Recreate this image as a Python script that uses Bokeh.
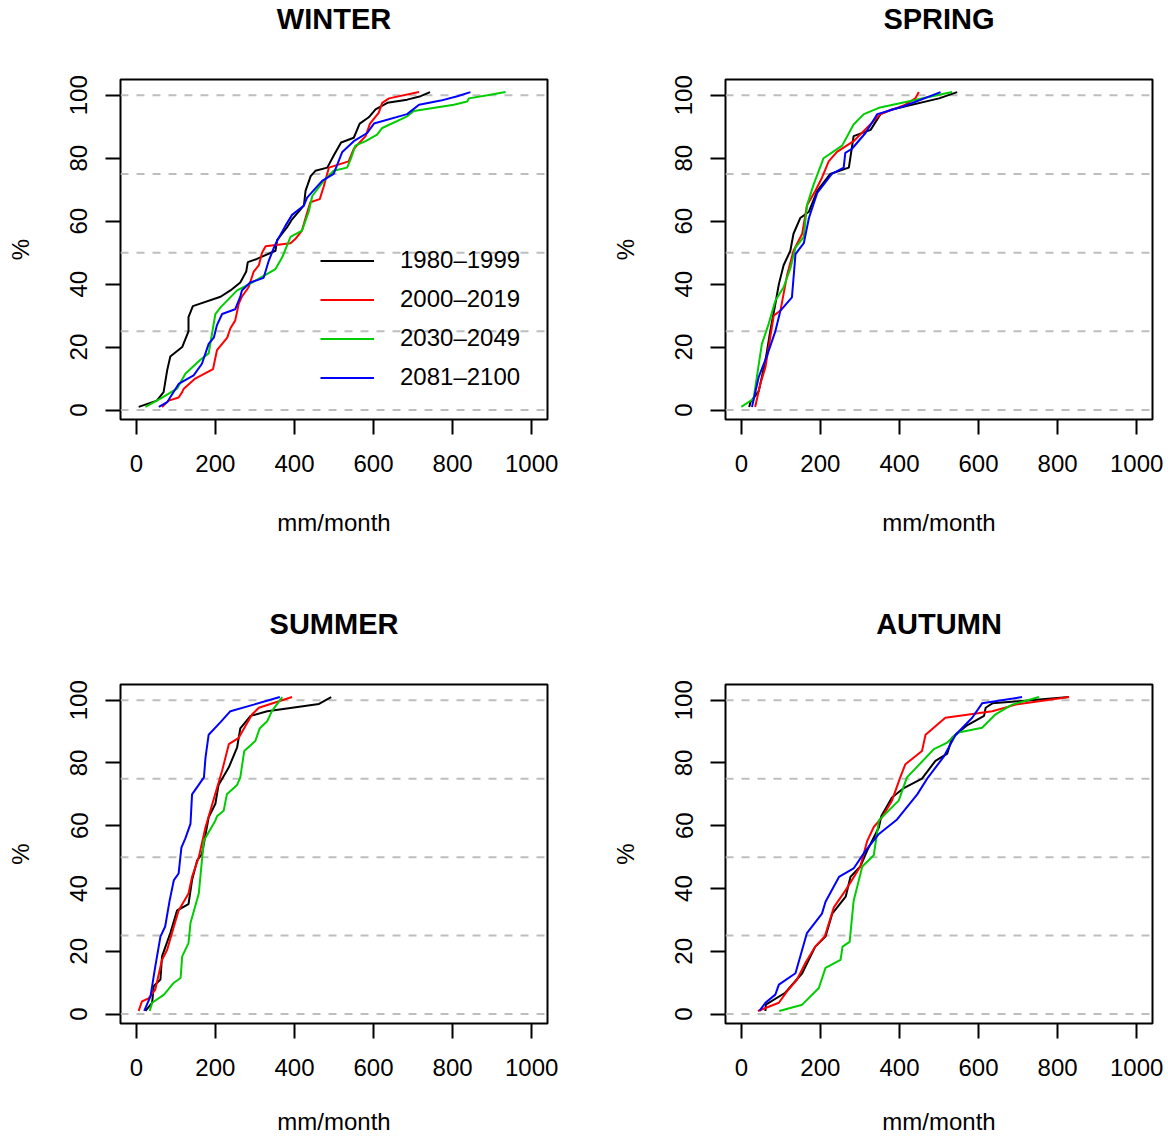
import math
from bokeh.plotting import figure
from bokeh.models import Range1d, Span, Legend, LegendItem, FixedTicker, Title
from bokeh.layouts import column, row
from bokeh.embed import file_html
from bokeh.resources import INLINE

# ---------------- data ----------------
periods = ["1980\u20131999", "2000\u20132019", "2030\u20132049", "2081\u20132100"]
period_colors = ["#000000", "#FF0000", "#00CD00", "#0000FF"]
x_ticks = [0, 200, 400, 600, 800, 1000]
y_ticks = [0, 20, 40, 60, 80, 100]
ref_levels = [0, 25, 50, 75, 100]

# WINTER
winter_1980_x = [6, 52, 69, 78, 86, 116, 132, 132, 143, 213, 238, 263, 278, 282, 305, 352, 356, 381, 394, 424, 428, 441, 453, 483, 500, 518, 550, 565, 588, 605, 635, 685, 719, 743]
winter_1980_y = [1, 3, 5.7, 12.6, 17, 20, 25, 29.5, 33, 36, 38, 40.5, 44, 47, 48, 50.6, 54, 58, 60.6, 65, 69.6, 74.3, 76, 77, 81, 85, 86.5, 91, 93, 95.5, 97.6, 98.6, 99.7, 101]
winter_2000_x = [65, 82, 107, 116, 120, 149, 194, 204, 230, 238, 250, 259, 267, 284, 297, 310, 318, 327, 390, 402, 419, 428, 440, 464, 474, 487, 537, 550, 580, 591, 613, 622, 639, 715]
winter_2000_y = [1, 3, 4, 5.7, 6.8, 10, 13, 19, 23, 26, 28.4, 33.7, 36, 39, 44, 46, 50, 52, 53, 54.3, 57, 61, 66, 67, 71, 77, 79, 83, 87, 91, 94.4, 97.6, 99, 101]
winter_2030_x = [23, 61, 103, 124, 162, 183, 200, 213, 255, 293, 352, 369, 390, 419, 436, 445, 474, 499, 533, 542, 554, 580, 609, 622, 685, 702, 803, 837, 841, 888, 934]
winter_2030_y = [1, 3.6, 6.8, 11.5, 16, 18, 30.5, 32.6, 38, 40.5, 44.8, 48.5, 55, 57, 63, 68, 72.8, 76, 77, 79.6, 84, 85.4, 87.5, 89.6, 93.3, 95, 97, 98, 99, 100, 101]
winter_2081_x = [57, 78, 107, 145, 166, 183, 196, 204, 217, 250, 263, 267, 288, 322, 335, 348, 356, 377, 394, 424, 432, 470, 499, 521, 550, 584, 601, 685, 715, 770, 812, 845]
winter_2081_y = [1, 2.5, 8.3, 11, 14.7, 21, 23, 27, 30.5, 32, 36, 38, 40.5, 42, 47.4, 51.6, 53.7, 58.5, 62, 65, 67.5, 72.8, 75, 82, 85.4, 88, 91, 94, 97, 98.3, 99.7, 101]

# SPRING
spring_1980_x = [20, 23, 44, 61, 73, 86, 95, 107, 124, 132, 149, 171, 192, 225, 259, 272, 284, 327, 352, 381, 500, 546]
spring_1980_y = [1, 2.5, 6, 15.7, 25, 33.7, 40, 46, 50.6, 56, 61, 63, 69.6, 75, 76.5, 77, 87, 89, 94, 95.5, 99, 101]
spring_2000_x = [35, 48, 61, 82, 99, 116, 132, 154, 166, 187, 204, 221, 242, 284, 352, 415, 440, 449]
spring_2000_y = [1, 8.3, 13.6, 30, 31.6, 43, 50.6, 56, 65, 69.6, 73.8, 79, 82, 85.4, 94, 97, 99, 101]
spring_2030_x = [0, 31, 52, 69, 86, 107, 124, 137, 158, 166, 183, 208, 255, 284, 310, 348, 407, 533]
spring_2030_y = [1, 3.6, 21, 27.3, 34.7, 39, 45, 51.6, 55, 65, 71.7, 80, 84, 90.7, 94, 96, 97.6, 101]
spring_2081_x = [27, 44, 65, 86, 99, 128, 137, 158, 171, 192, 229, 259, 263, 280, 314, 344, 411, 504]
spring_2081_y = [1, 10.5, 17.3, 25, 31.6, 35.8, 49.5, 53, 61, 69, 75, 77, 81.7, 83, 88, 94, 96.5, 101]

# SUMMER
summer_1980_x = [23, 40, 44, 61, 65, 86, 103, 132, 141, 154, 166, 183, 200, 208, 234, 255, 263, 289, 331, 462, 493]
summer_1980_y = [1, 3.6, 8.9, 11, 18.4, 25.8, 33, 35, 42.7, 49, 51, 62.7, 67, 73, 78.6, 85, 91, 95, 96.5, 98.8, 101]
summer_2000_x = [6, 14, 31, 48, 65, 78, 95, 107, 132, 141, 158, 175, 204, 217, 234, 259, 293, 310, 394]
summer_2000_y = [1, 4, 5, 7.8, 17.3, 20.5, 27.9, 33, 38.4, 43.7, 50, 59.5, 72, 77.5, 86, 88, 95.5, 97.6, 101]
summer_2030_x = [34, 40, 70, 95, 112, 116, 132, 137, 158, 166, 171, 200, 204, 221, 229, 255, 263, 273, 301, 312, 331, 343, 369]
summer_2030_y = [1, 3.6, 6.2, 10, 11.5, 18.4, 22.6, 29, 38.4, 49, 55.3, 61.7, 63, 64.8, 70, 73, 75.4, 83.8, 87, 91, 93.3, 96.5, 101]
summer_2081_x = [20, 36, 48, 61, 73, 84, 95, 107, 114, 124, 137, 141, 171, 175, 183, 213, 238, 297, 363]
summer_2081_y = [1, 5.7, 15.2, 24.7, 27.9, 36, 42.7, 44.8, 53, 56, 60.6, 70, 75.4, 81.7, 89, 93, 96.5, 98.6, 101]

# AUTUMN
autumn_1980_x = [61, 62, 111, 154, 187, 213, 230, 264, 276, 301, 318, 348, 354, 381, 411, 457, 491, 521, 533, 571, 614, 618, 635, 829]
autumn_1980_y = [1, 3, 6.8, 13, 21.5, 24.7, 32, 37.4, 43.7, 47, 52, 59.5, 63, 69, 72, 75, 80.7, 83, 88, 92, 95, 97.6, 99, 101]
autumn_2000_x = [42, 95, 116, 141, 162, 187, 211, 234, 264, 301, 318, 335, 356, 381, 402, 415, 457, 466, 516, 635, 694, 829]
autumn_2000_y = [1, 3.6, 7.3, 11, 16.3, 21.5, 24.7, 34, 39.5, 47, 55, 59.6, 62.7, 68, 75.4, 79.6, 83.8, 89, 94.4, 96.5, 98.6, 101]
autumn_2030_x = [96, 154, 196, 213, 251, 256, 274, 284, 306, 335, 348, 398, 419, 487, 521, 546, 609, 643, 685, 753]
autumn_2030_y = [1, 3, 8.3, 14.7, 17.3, 21.5, 23, 36, 47, 50.6, 61.7, 68, 75.4, 84.4, 86.5, 89.6, 91.2, 95.5, 98.6, 101]
autumn_2081_x = [46, 61, 86, 95, 137, 166, 204, 213, 247, 284, 314, 348, 394, 445, 470, 512, 542, 584, 609, 710]
autumn_2081_y = [1, 3.6, 6.2, 9.4, 13, 25.8, 32, 35.8, 43.7, 46.4, 52, 57.4, 62, 70, 75, 82, 89, 94.4, 99, 101]

seasons = ["WINTER", "SPRING", "SUMMER", "AUTUMN"]
season_series = {
    "WINTER": [(winter_1980_x, winter_1980_y), (winter_2000_x, winter_2000_y), (winter_2030_x, winter_2030_y), (winter_2081_x, winter_2081_y)],
    "SPRING": [(spring_1980_x, spring_1980_y), (spring_2000_x, spring_2000_y), (spring_2030_x, spring_2030_y), (spring_2081_x, spring_2081_y)],
    "SUMMER": [(summer_1980_x, summer_1980_y), (summer_2000_x, summer_2000_y), (summer_2030_x, summer_2030_y), (summer_2081_x, summer_2081_y)],
    "AUTUMN": [(autumn_1980_x, autumn_1980_y), (autumn_2000_x, autumn_2000_y), (autumn_2030_x, autumn_2030_y), (autumn_2081_x, autumn_2081_y)],
}

FONT = "Liberation Sans"
FRAME_W, FRAME_H = 427, 341


def make_panel(title, series, col, rowi, show_legend):
    b_left = 120
    b_right = 58 if col == 0 else 16
    b_top = 78
    b_bottom = 186 if rowi == 0 else 113
    p = figure(width=b_left + FRAME_W + b_right, height=b_top + FRAME_H + b_bottom,
               x_range=Range1d(-40, 1040), y_range=Range1d(-3, 105),
               output_backend="svg", toolbar_location=None,
               min_border_left=b_left, min_border_right=b_right,
               min_border_top=b_top, min_border_bottom=b_bottom)
    p.xgrid.visible = False
    p.ygrid.visible = False
    p.outline_line_color = "black"
    p.outline_line_width = 2
    p.outline_line_alpha = 1
    p.background_fill_color = "white"
    p.border_fill_color = "white"

    p.title.text = title
    p.title.align = "center"
    p.title.standoff = 0
    p.title.text_font = FONT
    p.title.text_font_size = "29px"
    p.title.text_font_style = "bold"
    p.title.text_color = "black"
    # invisible spacer between the frame and the title
    p.add_layout(Title(text=" ", text_font_size="2px", standoff=41), "above")

    for ax, ticks in ((p.xaxis, x_ticks), (p.yaxis, y_ticks)):
        ax.ticker = FixedTicker(ticks=ticks)
        ax.minor_tick_line_color = None
        ax.major_tick_in = 0
        ax.major_tick_out = 15
        ax.major_tick_line_width = 2
        ax.major_tick_line_color = "black"
        ax.axis_line_color = None
        ax.major_label_text_font = FONT
        ax.major_label_text_font_size = "24px"
        ax.major_label_text_color = "black"
        ax.axis_label_text_font = FONT
        ax.axis_label_text_font_size = "24px"
        ax.axis_label_text_font_style = "normal"
        ax.axis_label_text_color = "black"
    p.xaxis.major_label_standoff = 20
    p.yaxis.major_label_standoff = 18
    p.yaxis.major_label_orientation = "vertical"
    p.yaxis.axis_label = "%"
    p.yaxis.axis_label_standoff = 34
    p.xaxis.axis_label = "mm/month"
    p.xaxis.axis_label_standoff = 34 if rowi == 0 else 29

    for lev in ref_levels:
        p.add_layout(Span(location=lev, dimension="width", line_color="#BEBEBE",
                          line_width=2, line_dash="8 8", level="underlay"))

    renderers = []
    for (xs, ys), c in zip(series, period_colors):
        r = p.line(xs, ys, line_color=c, line_width=2)
        renderers.append(r)

    if show_legend:
        items = [LegendItem(label=lab, renderers=[r]) for lab, r in zip(periods, renderers)]
        leg = Legend(items=items, location=(200, 22.5), glyph_width=54, glyph_height=39,
                     label_height=39, spacing=0, padding=0, margin=0, label_standoff=26,
                     border_line_color=None, background_fill_alpha=0,
                     label_text_font=FONT, label_text_font_size="24px",
                     label_text_color="black")
        p.add_layout(leg)
    return p


panels = []
for i, s in enumerate(seasons):
    panels.append(make_panel(s, season_series[s], i % 2, i // 2, s == "WINTER"))

layout = column(row(panels[0], panels[1]), row(panels[2], panels[3]))
open("out.html", "w").write(file_html(layout, INLINE))
